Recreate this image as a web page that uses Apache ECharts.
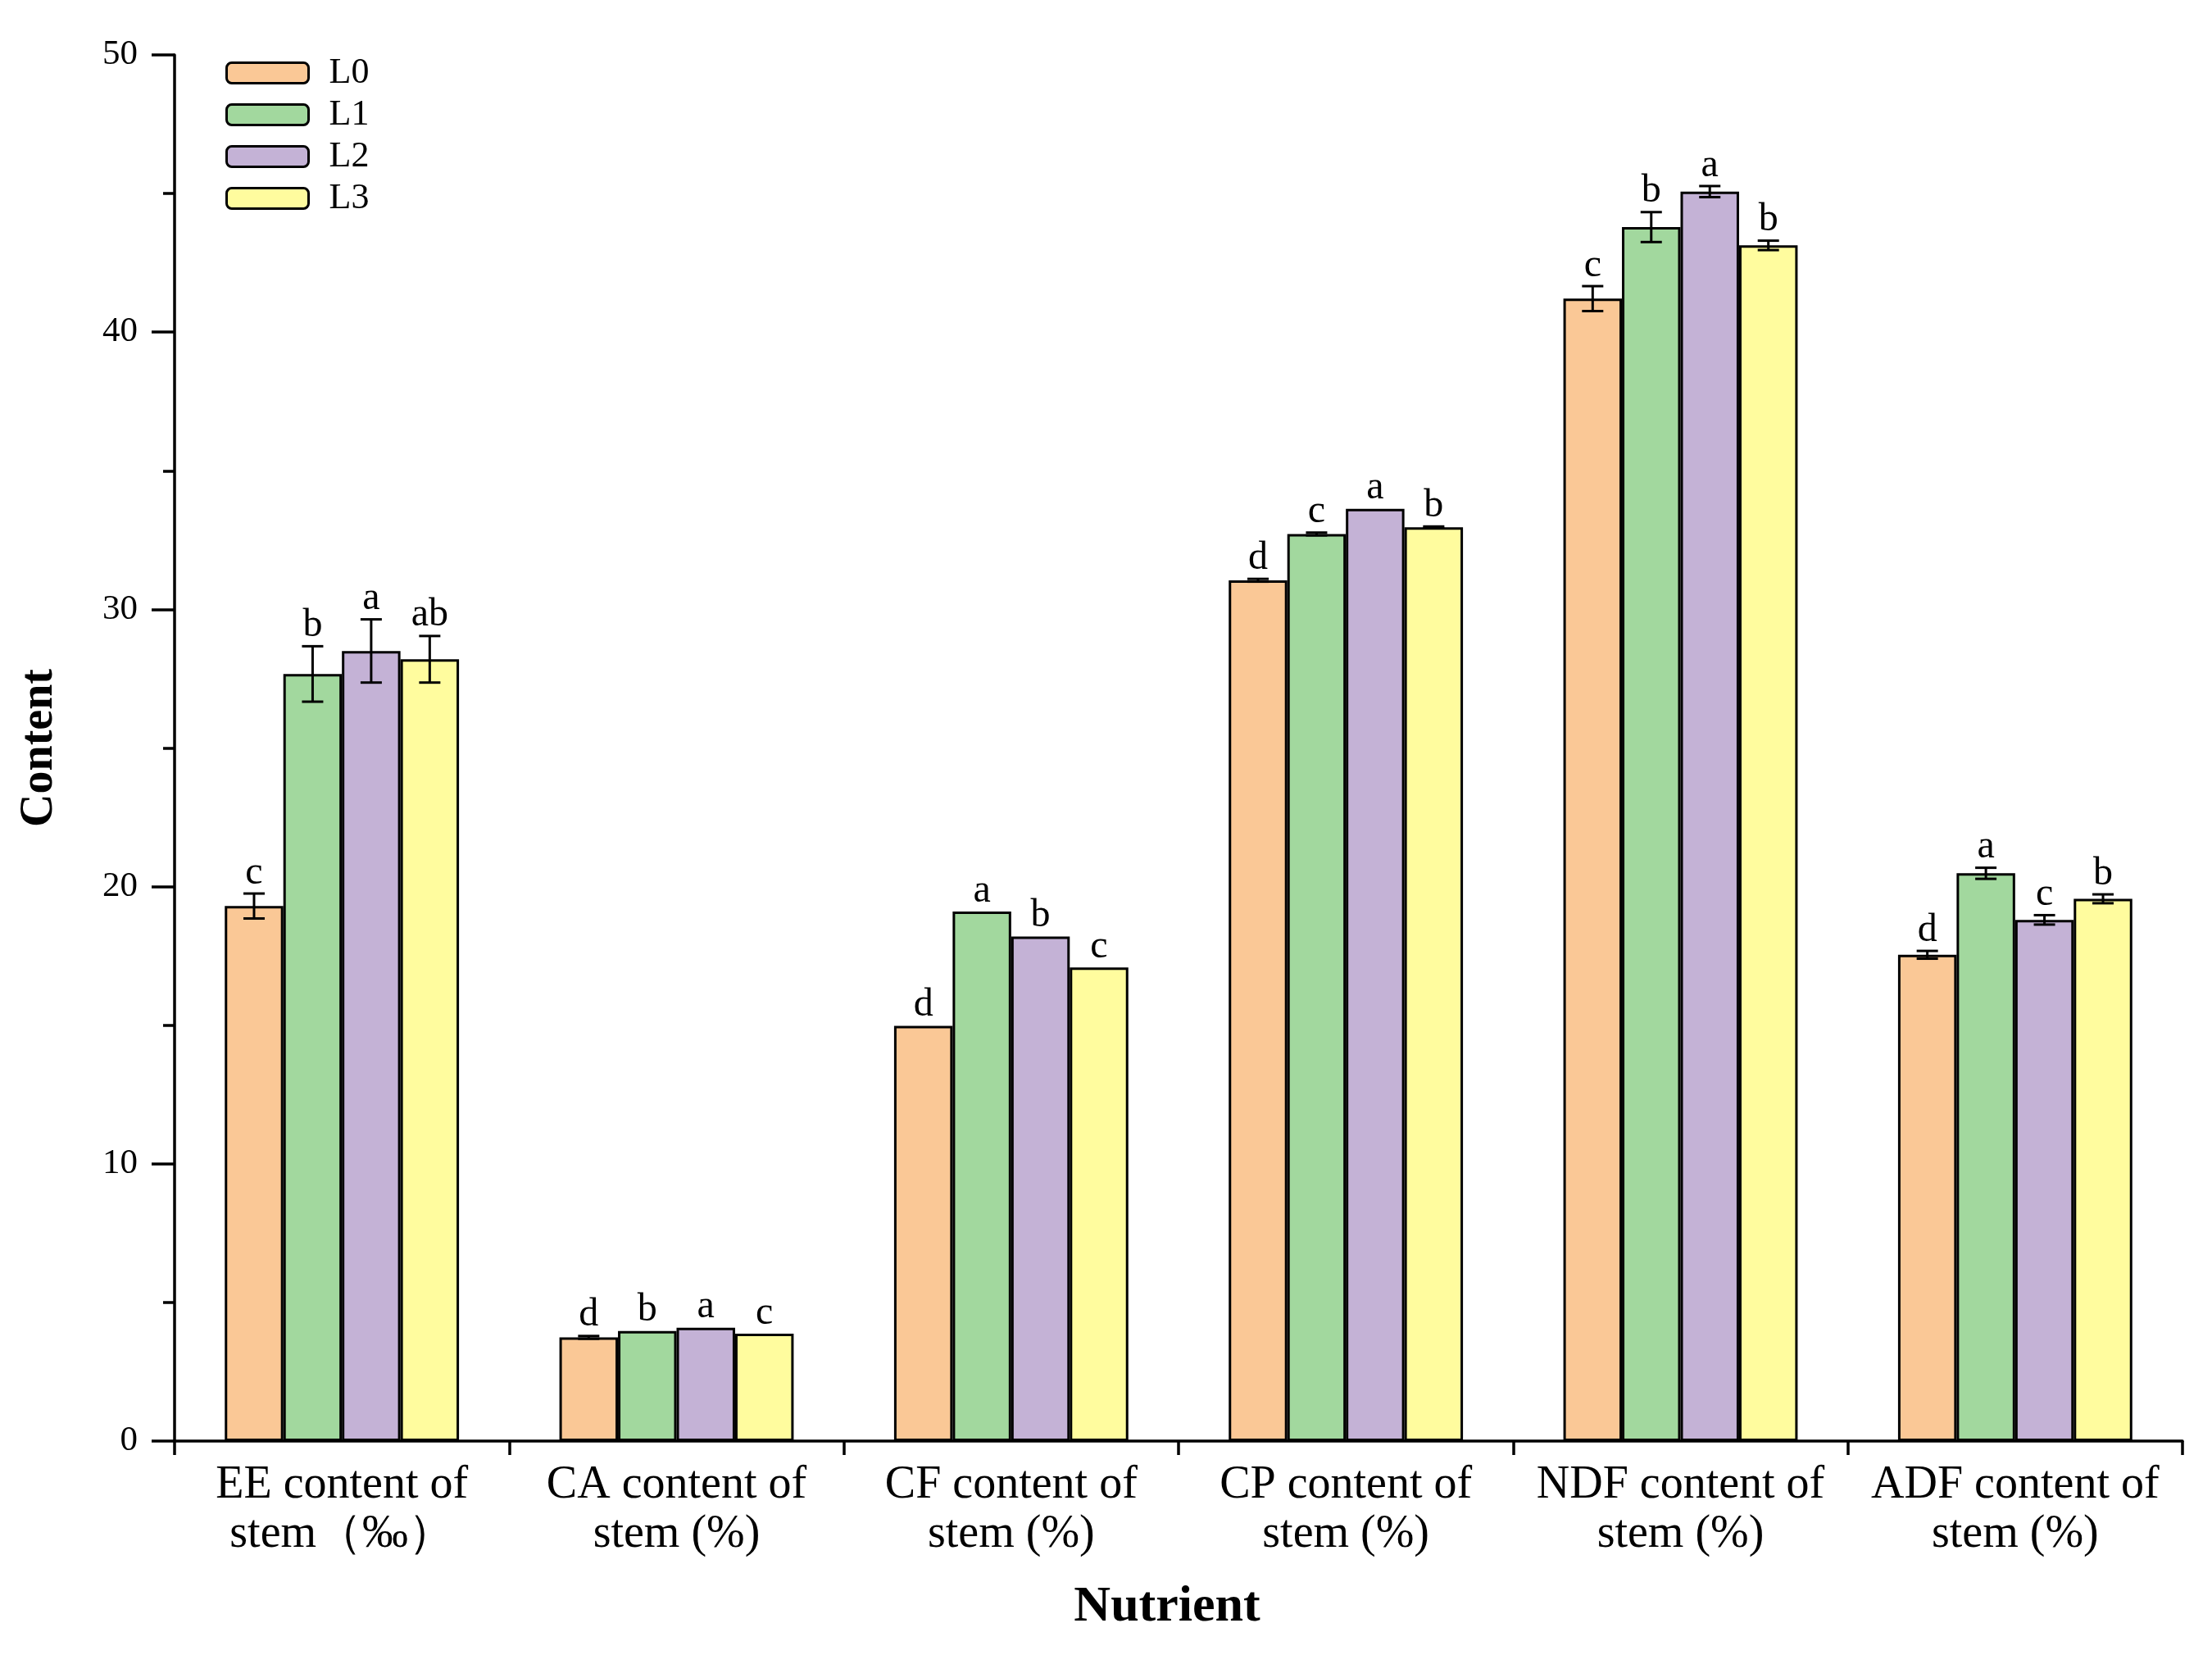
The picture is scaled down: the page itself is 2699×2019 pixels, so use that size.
<!DOCTYPE html>
<html>
<head>
<meta charset="utf-8">
<script src="https://cdn.jsdelivr.net/npm/echarts@6/dist/echarts.min.js"></script>
<style>html,body{margin:0;padding:0;background:#fff;}#c{width:2699px;height:2019px;}</style>
</head>
<body>
<div id="c"></div>
<script>
const categories = ['EE content of\nstem（‰）', 'CA content of\nstem (%)', 'CF content of\nstem (%)', 'CP content of\nstem (%)', 'NDF content of\nstem (%)', 'ADF content of\nstem (%)'];
const seriesNames = ['L0', 'L1', 'L2', 'L3'];
const L0 = [19.3, 3.74, 14.98, 31.05, 41.21, 17.54];
const L1 = [27.67, 3.97, 19.1, 32.72, 43.79, 20.48];
const L2 = [28.5, 4.09, 18.2, 33.63, 45.07, 18.8];
const L3 = [28.2, 3.87, 17.08, 32.96, 43.13, 19.56];
const L0err = [0.45, 0.05, 0, 0.05, 0.45, 0.14];
const L1err = [1.0, 0, 0, 0.05, 0.54, 0.2];
const L2err = [1.14, 0, 0, 0, 0.2, 0.17];
const L3err = [0.84, 0, 0, 0.03, 0.17, 0.16];
const L0sig = ['c', 'd', 'd', 'd', 'c', 'd'];
const L1sig = ['b', 'b', 'a', 'c', 'b', 'a'];
const L2sig = ['a', 'a', 'b', 'a', 'a', 'c'];
const L3sig = ['ab', 'c', 'c', 'b', 'b', 'b'];
const yTicks = [0, 10, 20, 30, 40, 50];

const values = [L0, L1, L2, L3];
const errs = [L0err, L1err, L2err, L3err];
const sigs = [L0sig, L1sig, L2sig, L3sig];
const colors = ['#FAC896', '#A2D89E', '#C4B2D6', '#FFFC9E'];
const FONT = 'Liberation Serif';
const CAT_GAP = 0.30;

const series = [];
seriesNames.forEach((n, i) => {
  series.push({
    name: n, type: 'bar', data: values[i],
    barGap: '0%', barCategoryGap: (CAT_GAP * 100) + '%',
    itemStyle: { color: colors[i], borderColor: '#000', borderWidth: 3 },
    z: 2
  });
});
seriesNames.forEach((n, i) => {
  series.push({
    name: 'err' + n, type: 'custom', clip: false, z: 5,
    data: categories.map((c, j) => [j, values[i][j], errs[i][j]]),
    renderItem: function (params, api) {
      const ci = api.value(0), v = api.value(1), e = api.value(2);
      const band = api.size([1, 0])[0];
      const bw = band * (1 - CAT_GAP) / 4;
      const x = api.coord([ci, v])[0] + (i - 1.5) * bw;
      const yt = api.coord([ci, v + e])[1];
      const yb = api.coord([ci, v - e])[1];
      const cap = 13;
      const ls = { stroke: '#000', lineWidth: 3 };
      const children = [];
      if (e > 0) {
        children.push({ type: 'line', shape: { x1: x, y1: yt, x2: x, y2: yb }, style: ls });
        children.push({ type: 'line', shape: { x1: x - cap, y1: yt, x2: x + cap, y2: yt }, style: ls });
        children.push({ type: 'line', shape: { x1: x - cap, y1: yb, x2: x + cap, y2: yb }, style: ls });
      }
      children.push({
        type: 'text', x: x, y: yt - 1,
        style: { text: sigs[i][params.dataIndex], fontFamily: FONT, fontSize: 48, fill: '#000', align: 'center', verticalAlign: 'bottom' }
      });
      return { type: 'group', children: children };
    }
  });
});

const chart = echarts.init(document.getElementById('c'));
chart.setOption({
  backgroundColor: '#fff',
  animation: false,
  grid: { left: 213, right: 36, top: 67, bottom: 261 },
  legend: {
    data: seriesNames, orient: 'vertical', left: 270, top: 62,
    itemWidth: 100, itemHeight: 25, itemGap: 7,
    itemStyle: { borderColor: '#000', borderWidth: 3 },
    textStyle: { fontFamily: FONT, fontSize: 44, color: '#000', padding: [0, 0, 0, 20] }
  },
  xAxis: {
    type: 'category', data: categories,
    name: 'Nutrient', nameLocation: 'middle', nameGap: 172,
    nameTextStyle: { fontFamily: FONT, fontSize: 62, fontWeight: 'bold', color: '#000', padding: [0, 28, 0, 0] },
    axisLine: { lineStyle: { color: '#000', width: 3.5 } },
    axisTick: { show: true, alignWithLabel: false, length: 17, lineStyle: { color: '#000', width: 3.5 } },
    axisLabel: { fontFamily: FONT, fontSize: 56, lineHeight: 60, color: '#000', margin: 24, interval: 0 }
  },
  yAxis: {
    type: 'value', min: 0, max: 50, interval: 10,
    name: 'Content', nameLocation: 'middle', nameGap: 136, nameRotate: 90,
    nameTextStyle: { fontFamily: FONT, fontSize: 56, fontWeight: 'bold', color: '#000' },
    axisLine: { show: true, lineStyle: { color: '#000', width: 3.5 } },
    axisTick: { show: true, length: 28, lineStyle: { color: '#000', width: 3.5 } },
    minorTick: { show: true, splitNumber: 2, length: 14, lineStyle: { color: '#000', width: 3.5 } },
    splitLine: { show: false },
    axisLabel: { fontFamily: FONT, fontSize: 43, color: '#000', margin: 45,
      formatter: v => yTicks.includes(v) ? String(v) : '' }
  },
  series: series
});
</script>
</body>
</html>
